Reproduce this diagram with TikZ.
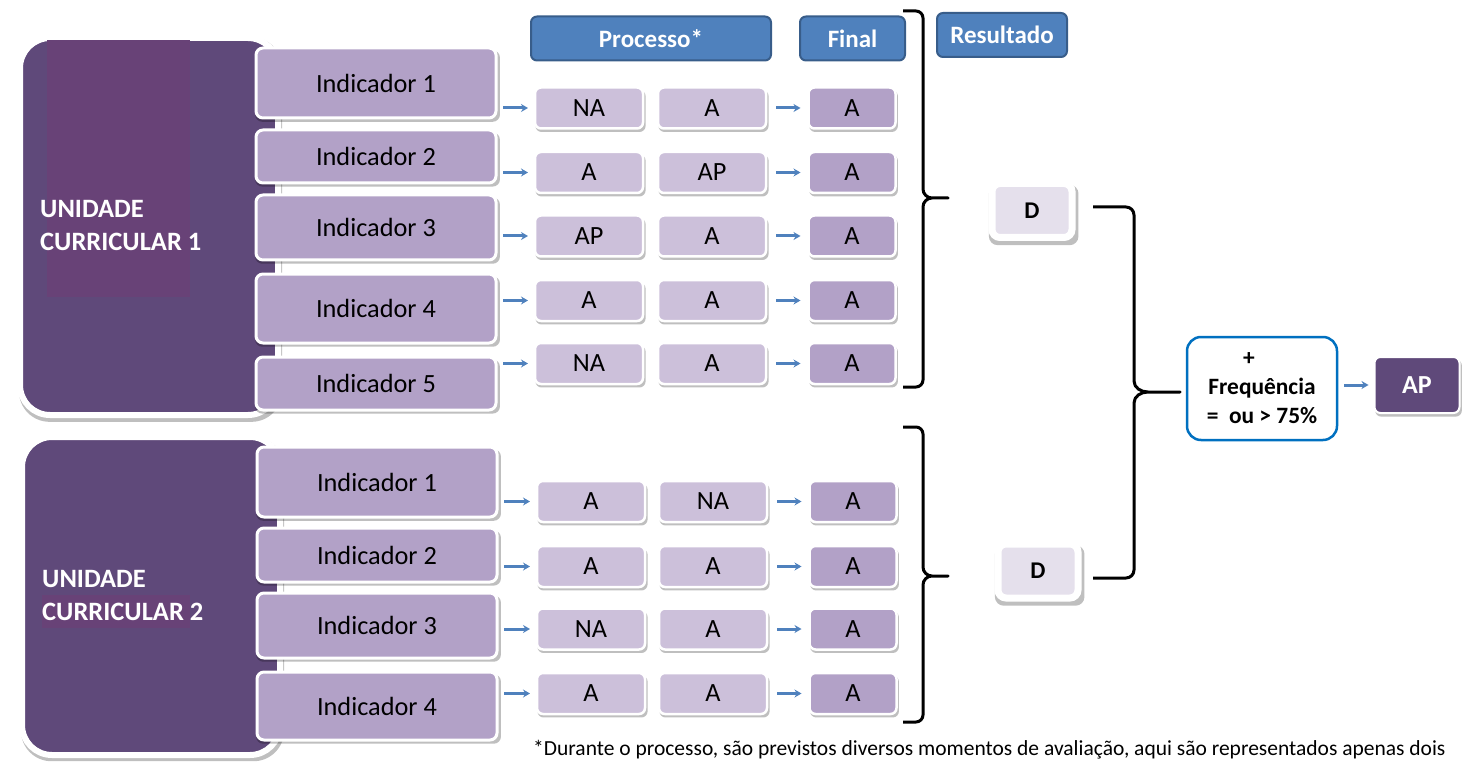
\documentclass[tikz,border=0pt]{standalone}
\usepackage{fontspec}
\setmainfont{Carlito}
\usetikzlibrary{shadows,calc,arrows.meta}
\definecolor{ucfill}{HTML}{5F497A}
\definecolor{ucpink}{HTML}{684277}
\definecolor{indfill}{HTML}{B2A1C7}
\definecolor{procfill}{HTML}{CCC0DA}
\definecolor{dfill}{HTML}{E5E0EC}
\definecolor{hdrfill}{HTML}{4F81BD}
\definecolor{hdrline}{HTML}{385D8A}
\definecolor{arrblue}{HTML}{4F81BD}
\definecolor{freqblue}{HTML}{0070C0}
\begin{document}
\begin{tikzpicture}[x=1pt,y=-1pt,
  shad/.style={drop shadow={shadow xshift=1.5pt,shadow yshift=-3pt,shadow scale=1.02,opacity=0.25,fill=black}},
  ucbox/.style={rectangle,rounded corners=30pt,fill=ucfill,draw=white,line width=6pt,inner sep=0,outer sep=0,shad},
  uctext/.style={text=white,font=\bfseries\fontsize{26.5}{30}\selectfont,inner sep=0},
  indbox/.style={rectangle,rounded corners=7pt,fill=indfill,draw=white,line width=3pt,inner sep=0,outer sep=0,minimum width=240pt,shad,font=\fontsize{26.3}{30}\selectfont},
  pbox/.style={rectangle,rounded corners=6pt,fill=procfill,draw=white,line width=2.5pt,inner sep=0,outer sep=0,minimum width=108pt,minimum height=41pt,shad,font=\fontsize{26.3}{30}\selectfont},
  finbox/.style={pbox,fill=indfill,minimum width=87pt},
  hdr/.style={rectangle,rounded corners=6pt,fill=hdrfill,draw=hdrline,line width=2pt,text=white,font=\bfseries\fontsize{25}{29}\selectfont,inner sep=0,minimum height=44pt},
  dbox/.style={rectangle,rounded corners=8pt,fill=dfill,draw=white,line width=7pt,inner sep=0,minimum width=80pt,minimum height=54pt,
    drop shadow={shadow xshift=1.5pt,shadow yshift=-4pt,shadow scale=1.12,opacity=0.25,fill=black},font=\bfseries\fontsize{24}{28}\selectfont},
  arr/.style={draw=arrblue,line width=3pt,-{Stealth[length=7pt,width=8pt]}},
  bracel/.style={draw=black,line width=3pt,line join=round}]
\useasboundingbox (0,0) rectangle (1462,762);

% Unidade curricular 1
\node[ucbox,minimum width=258pt,minimum height=377pt] (uc1) at (149,226.5) {};
\fill[ucpink] (47,40) rectangle (190,297);
\node[uctext,anchor=base west] (uc1a) at (40,218) {UNIDADE};
\node[uctext,anchor=base west] (uc1b) at (40,251) {CURRICULAR 1};

% Unidade curricular 2
\node[ucbox,minimum width=258pt,minimum height=318pt] (uc2) at (151,596) {};
\fill[ucpink] (42,595) rectangle (190,628);
\node[uctext,anchor=base west] (uc2a) at (42,587) {UNIDADE};
\node[uctext,anchor=base west] (uc2b) at (42,620) {CURRICULAR 2};

% Indicadores UC1
\node[indbox,minimum height=70pt] (u1i1) at (376,83) {Indicador 1};
\node[indbox,minimum height=53pt] (u1i2) at (376,156.5) {Indicador 2};
\node[indbox,minimum height=65pt] (u1i3) at (376,227.5) {Indicador 3};
\node[indbox,minimum height=69pt] (u1i4) at (376,308.5) {Indicador 4};
\node[indbox,minimum height=53pt] (u1i5) at (376,383.5) {Indicador 5};
% Indicadores UC2
\node[indbox,minimum height=70pt] (u2i1) at (377,482) {Indicador 1};
\node[indbox,minimum height=54pt] (u2i2) at (377,555) {Indicador 2};
\node[indbox,minimum height=65pt] (u2i3) at (377,625.5) {Indicador 3};
\node[indbox,minimum height=68pt] (u2i4) at (377,706) {Indicador 4};

% Headers
\node[hdr,minimum width=240pt] (hproc) at (651,38.5) {Processo*};
\node[hdr,minimum width=105pt] (hfin) at (852.5,38.5) {Final};
\node[hdr,minimum width=130pt] (hres) at (1002,35) {Resultado};

% Rows UC1
\foreach \r/\y/\a/\b/\c in {1/108/NA/A/A, 2/172.5/A/AP/A, 3/236/AP/A/A, 4/300.5/A/A/A, 5/363.5/NA/A/A} {
  \node[pbox] (pa\r) at (589,\y) {\a};
  \node[pbox] (pb\r) at (712,\y) {\b};
  \node[finbox] (pc\r) at (852,\y) {\c};
  \draw[arr] ($(u1i\r.east |- pa\r.west)+(7,0)$) -- ([xshift=-7pt]pa\r.west);
  \draw[arr] ([xshift=10pt]pb\r.east) -- ([xshift=-8pt]pc\r.west);
}
% Rows UC2
\foreach \r/\y/\a/\b/\c in {1/501.5/A/NA/A, 2/566.5/A/A/A, 3/629/NA/A/A, 4/693.5/A/A/A} {
  \node[pbox] (qa\r) at (591,\y) {\a};
  \node[pbox] (qb\r) at (713,\y) {\b};
  \node[finbox] (qc\r) at (853,\y) {\c};
  \draw[arr] ($(u2i\r.east |- qa\r.west)+(7,0)$) -- ([xshift=-7pt]qa\r.west);
  \draw[arr] ([xshift=10pt]qb\r.east) -- ([xshift=-8pt]qc\r.west);
}

% Braces
\draw[bracel] (903,11) -- (916,11) to[out=0,in=90] (923,18) -- (923,189)
  to[out=-90,in=180] (932,198) -- (948,198) -- (932,198) to[out=180,in=90] (923,207) -- (923,380)
  to[out=-90,in=0] (916,387) -- (903,387);
\draw[bracel] (903,427) -- (916,427) to[out=0,in=90] (923,434) -- (923,567)
  to[out=-90,in=180] (932,576) -- (948,576) -- (932,576) to[out=180,in=90] (923,585) -- (923,715)
  to[out=-90,in=0] (916,722) -- (903,722);

% D boxes
\node[dbox] (d1) at (1032,210.5) {D};
\node[dbox] (d2) at (1038,571) {D};

% Big brace
\draw[bracel] (1093,207) -- (1126,207) to[out=0,in=90] (1134,215) -- (1134,381)
  to[out=-90,in=180] (1148,392) -- (1180,392) -- (1148,392) to[out=180,in=90] (1134,403) -- (1134,570)
  to[out=-90,in=0] (1126,578) -- (1093,578);

% Frequencia
\node[rectangle,rounded corners=14pt,draw=freqblue,line width=2.5pt,fill=white,
  minimum width=150pt,minimum height=103pt,inner sep=0,align=center,
  font=\bfseries\fontsize{23.4}{29}\selectfont] (freq) at (1262,388.5)
  {+\hspace*{26pt}\\Frequência\\=~~ou > 75\%};

% AP
\node[rectangle,rounded corners=6pt,fill=ucfill,draw=white,line width=2pt,shad,
  minimum width=85pt,minimum height=56pt,inner sep=0,text=white,
  font=\bfseries\fontsize{26}{30}\selectfont] (ap) at (1417,385) {AP};
\draw[arr] ($(freq.east |- ap.west)+(6,0)$) -- ([xshift=-5pt]ap.west);

% Footnote
\node[anchor=base west,inner sep=0,font=\fontsize{21.5}{26}\selectfont] (foot) at (533,755)
  {*Durante o processo, são previstos diversos momentos de avaliação, aqui são representados apenas dois};
\end{tikzpicture}
\end{document}
